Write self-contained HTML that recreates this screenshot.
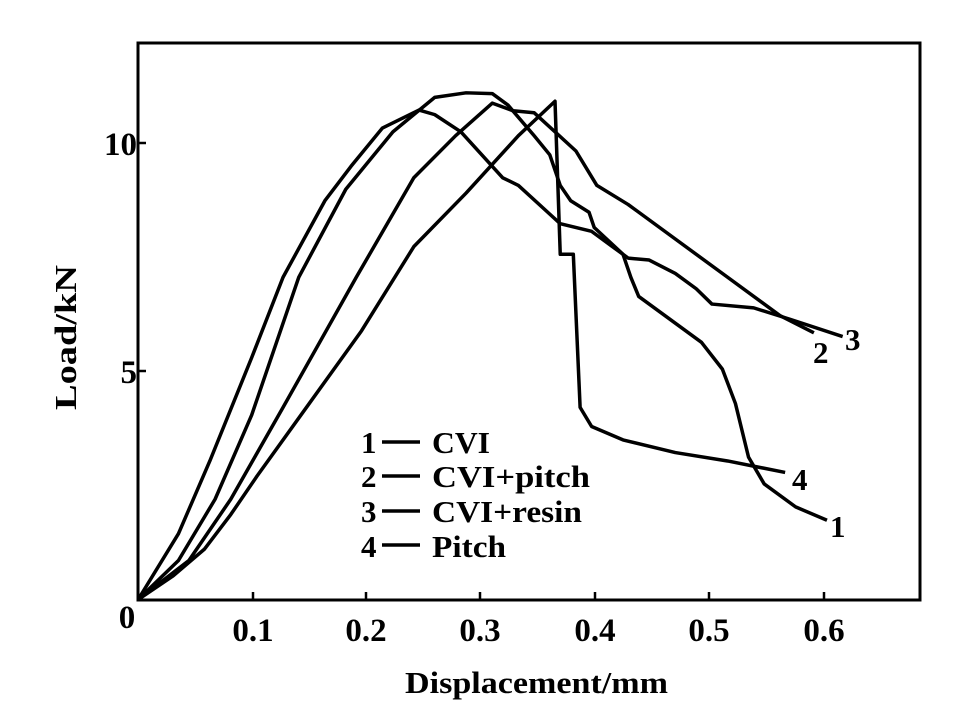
<!DOCTYPE html>
<html><head><style>
body{margin:0;background:#fff;}
svg{display:block;}
text{font-family:"Liberation Serif",serif;fill:#000;font-weight:bold;}
</style></head><body>
<svg width="962" height="711" viewBox="0 0 962 711">
<rect width="962" height="711" fill="#fff"/>
<rect x="138" y="43" width="782" height="557" fill="none" stroke="#000" stroke-width="3"/>
<g stroke="#000" stroke-width="2.5">
<line x1="253" y1="600" x2="253" y2="592"/><line x1="366" y1="600" x2="366" y2="592"/><line x1="480" y1="600" x2="480" y2="592"/>
<line x1="595" y1="600" x2="595" y2="592"/><line x1="709" y1="600" x2="709" y2="592"/><line x1="824" y1="600" x2="824" y2="592"/>
<line x1="138" y1="143" x2="146" y2="143"/><line x1="138" y1="371" x2="146" y2="371"/>
</g>
<g font-size="33">
<text x="127" y="628" text-anchor="middle">0</text>
<text x="253" y="641" text-anchor="middle">0.1</text><text x="366" y="641" text-anchor="middle">0.2</text><text x="480" y="641" text-anchor="middle">0.3</text>
<text x="595" y="641" text-anchor="middle">0.4</text><text x="709" y="641" text-anchor="middle">0.5</text><text x="824" y="641" text-anchor="middle">0.6</text>
<text x="137" y="155" text-anchor="end">10</text><text x="137" y="383" text-anchor="end">5</text>
</g>
<g font-size="31">
<text x="405" y="693" textLength="263" lengthAdjust="spacingAndGlyphs">Displacement/mm</text>
<text transform="translate(76,410) rotate(-90)" textLength="145" lengthAdjust="spacingAndGlyphs">Load/kN</text>
<text x="361" y="453">1</text><text x="432" y="453" textLength="58" lengthAdjust="spacingAndGlyphs">CVI</text>
<text x="361" y="487">2</text><text x="432" y="487" textLength="158" lengthAdjust="spacingAndGlyphs">CVI+pitch</text>
<text x="361" y="522">3</text><text x="432" y="522" textLength="150" lengthAdjust="spacingAndGlyphs">CVI+resin</text>
<text x="361" y="557">4</text><text x="432" y="557" textLength="74" lengthAdjust="spacingAndGlyphs">Pitch</text>
<text x="845" y="350">3</text><text x="813" y="363">2</text><text x="792" y="490">4</text><text x="830" y="537">1</text>
</g>
<g stroke="#000" stroke-width="3.5">
<line x1="382" y1="442" x2="420" y2="442"/><line x1="382" y1="476" x2="420" y2="476"/>
<line x1="382" y1="511" x2="420" y2="511"/><line x1="382" y1="545" x2="420" y2="545"/>
</g>
<g transform="translate(100,40) scale(0.523,0.3827)" fill="none" stroke="#000" stroke-width="3.5" stroke-linejoin="round">
<path vector-effect="non-scaling-stroke" d="M73,1462 L150,1290 L210,1100 L290,830 L350,620 L430,420 L480,330 L540,230 L610,183 L640,195 L690,240 L730,300 L770,360 L800,380 L860,455 L880,480 L940,500 L980,540 L1010,570 L1050,575 L1100,610 L1140,650 L1170,690 L1250,700 L1320,730 L1420,775"/>
<path vector-effect="non-scaling-stroke" d="M73,1462 L150,1360 L220,1200 L290,980 L380,620 L470,390 L560,240 L640,150 L700,138 L750,140 L780,170 L830,250 L860,300 L880,380 L900,420 L935,450 L945,490 L1000,560 L1015,620 L1030,670 L1100,740 L1150,790 L1190,860 L1215,950 L1240,1090 L1270,1160 L1330,1220 L1390,1255"/>
<path vector-effect="non-scaling-stroke" d="M73,1462 L170,1360 L250,1200 L350,960 L490,620 L600,360 L680,250 L750,165 L790,185 L830,190 L870,240 L910,290 L950,380 L1010,430 L1100,520 L1200,620 L1300,720 L1365,765"/>
<path vector-effect="non-scaling-stroke" d="M73,1462 L140,1400 L200,1330 L250,1240 L300,1140 L400,950 L500,760 L600,540 L700,400 L800,250 L870,160 L880,560 L905,560 L918,960 L940,1010 L1000,1045 L1100,1078 L1200,1100 L1310,1130"/>
</g>
</svg>
</body></html>
